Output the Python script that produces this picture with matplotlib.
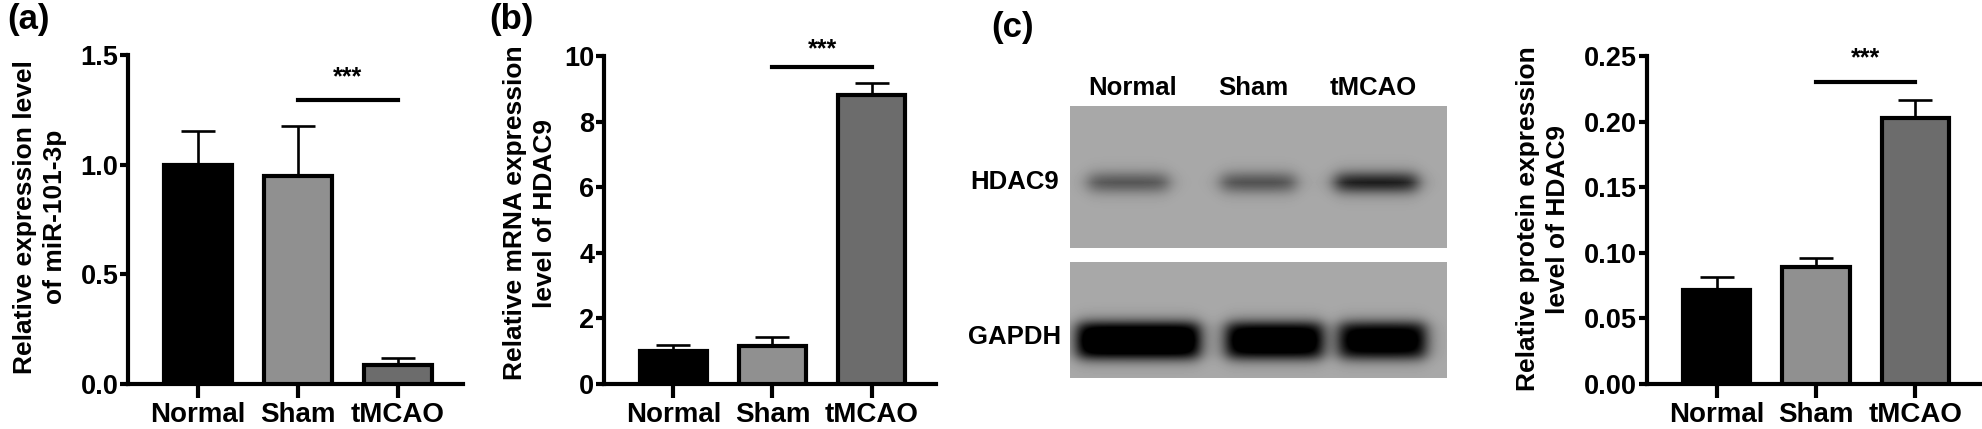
import matplotlib.pyplot as plt
import numpy as np

plt.rcParams['font.family'] = ['Liberation Sans', 'DejaVu Sans']
plt.rcParams['font.weight'] = 'bold'

groups = ['Normal', 'Sham', 'tMCAO']
bar_colors = ['#000000', '#909090', '#6c6c6c']

# panel (a): miR-101-3p
mir_mean = [1.0, 0.95, 0.085]
mir_err = [0.155, 0.225, 0.035]

# panel (b): HDAC9 mRNA
mrna_mean = [1.0, 1.15, 8.8]
mrna_err = [0.18, 0.28, 0.38]

# panel (c): HDAC9 protein
prot_mean = [0.072, 0.089, 0.203]
prot_err = [0.0098, 0.0068, 0.0135]

# western blot bands (lane centre in px, half width, darkness)
hdac9_x = [58, 188, 306]
hdac9_hw = [40, 37, 41]
hdac9_dark = [0.36, 0.38, 0.62]
gapdh_x = [68, 204, 312]
gapdh_hw = [61, 48, 43]
gapdh_dark = [0.90, 0.85, 0.80]

W, H = 1983, 429
fig = plt.figure(figsize=(W / 100, H / 100), dpi=100)


def rect(x0, y0, x1, y1):
    return [x0 / W, 1 - y1 / H, (x1 - x0) / W, (y1 - y0) / H]


def bar_panel(r, mean, err, ylim, yticks, fmt, ylabel, lab_x, lab_y, sig_y, star_y):
    ax = fig.add_axes(rect(*r))
    x = np.arange(len(groups))
    ax.bar(x, mean, width=0.68, color=bar_colors, edgecolor='black',
           linewidth=3.0, zorder=3)
    ax.errorbar(x, mean, yerr=[np.zeros(len(err)), err], fmt='none',
                ecolor='black', elinewidth=1.9, capsize=12, capthick=1.9, zorder=2)
    ax.plot([1, 2], [sig_y, sig_y], color='black', lw=3, clip_on=False)
    ax.text(1.5, star_y, '***', ha='center', va='center', fontsize=18,
            fontweight='bold')
    ax.set_xlim(-0.7, 2.65)
    ax.set_ylim(*ylim)
    ax.set_yticks(yticks)
    ax.set_yticklabels([fmt.format(v) for v in yticks])
    ax.set_xticks(x)
    ax.set_xticklabels(groups)
    for s in ['top', 'right']:
        ax.spines[s].set_visible(False)
    for s in ['left', 'bottom']:
        ax.spines[s].set_linewidth(3.0)
    ax.tick_params(axis='y', length=6, width=3.0, labelsize=19.5, pad=1)
    ax.tick_params(axis='x', length=10, width=3.0, labelsize=20, pad=3)
    fig.text(lab_x / W, 1 - lab_y / H, ylabel, rotation=90, ha='center',
             va='center', fontsize=19, fontweight='bold', linespacing=1.3)
    return ax


bar_panel((128, 55, 463, 384), mir_mean, mir_err, (0, 1.5), [0, 0.5, 1.0, 1.5],
          '{:.1f}', 'Relative expression level\nof miR-101-3p', 40, 217, 1.295, 1.40)
bar_panel((604, 56, 936, 384), mrna_mean, mrna_err, (0, 10), [0, 2, 4, 6, 8, 10],
          '{:d}', 'Relative mRNA expression\nlevel of HDAC9', 530, 213, 9.65, 10.2)
bar_panel((1647, 56, 1980, 384), prot_mean, prot_err, (0, 0.25),
          [0, 0.05, 0.10, 0.15, 0.20, 0.25], '{:.2f}',
          'Relative protein expression\nlevel of HDAC9', 1543, 219, 0.230, 0.248)


def blot(r, xs, hws, darks, yc, hh):
    ax = fig.add_axes(rect(*r))
    w = r[2] - r[0]
    h = r[3] - r[1]
    gx, gy = np.meshgrid(np.arange(w), np.arange(h))
    img = np.full((h, w), 0.66)
    for xc, hw, d in zip(xs, hws, darks):
        px = 1 / (1 + np.exp((np.abs(gx - xc) - hw) / 5))
        py = 1 / (1 + np.exp((np.abs(gy - yc) - hh) / 4))
        img -= d * px * py
    ax.imshow(np.clip(img, 0, 1), cmap='gray', vmin=0, vmax=1, aspect='auto',
              extent=(0, w, h, 0), interpolation='bilinear')
    ax.axis('off')
    return ax


blot((1070, 106, 1447, 248), hdac9_x, hdac9_hw, hdac9_dark, 76, 8)
blot((1070, 262, 1447, 378), gapdh_x, gapdh_hw, gapdh_dark, 78, 17)

for name, xc in zip(groups, [1133, 1253, 1373]):
    fig.text(xc / W, 1 - 88 / H, name, ha='center', va='center', fontsize=18.5,
             fontweight='bold')
fig.text(1015 / W, 1 - 182 / H, 'HDAC9', ha='center', va='center', fontsize=18.5,
         fontweight='bold')
fig.text(1015 / W, 1 - 337 / H, 'GAPDH', ha='center', va='center', fontsize=18.5,
         fontweight='bold')

for lab, xc, yc in [('(a)', 29, 19), ('(b)', 511, 19), ('(c)', 1013, 27)]:
    fig.text(xc / W, 1 - yc / H, lab, ha='center', va='center', fontsize=25,
             fontweight='bold')

fig.savefig('out.png', dpi=100)
